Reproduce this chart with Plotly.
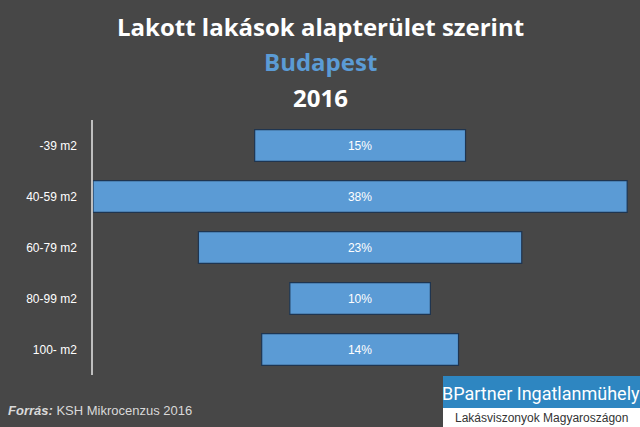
import plotly.graph_objects as go

categories = ["-39 m2", "40-59 m2", "60-79 m2", "80-99 m2", "100- m2"]
values = [15, 38, 23, 10, 14]
labels = ["15%", "38%", "23%", "10%", "14%"]

L, R, T, B = 93, 10, 120, 52
PW, PH = 640 - L - R, 427 - T - B

def px(x):
    return (x - L) / PW

def py(y):
    return (427 - B - y) / PH

fig = go.Figure(go.Bar(
    y=categories, x=values, base=[-v / 2 for v in values], orientation="h",
    text=labels, textposition="inside", insidetextanchor="middle",
    textfont=dict(color="white", size=12, family="Arial"),
    marker=dict(color="#5b9bd5", line=dict(color="#1f3550", width=1.2)),
    hoverinfo="skip",
))
fig.update_layout(
    width=640, height=427, margin=dict(l=L, r=R, t=T, b=B, autoexpand=False),
    paper_bgcolor="#474747", plot_bgcolor="rgba(0,0,0,0)",
    bargap=0.38, showlegend=False,
    xaxis=dict(range=[-19.0, 19.2], visible=False, automargin=False),
    yaxis=dict(autorange="reversed", showline=True, linecolor="#bfbfbf", linewidth=1.5,
               showgrid=False, ticks="", ticklabelstandoff=12, automargin=False,
               tickfont=dict(color="white", size=12, family="Arial")),
    font=dict(family="Arial"),
)
ann = [
    ("<b>Lakott lakások alapterület szerint</b>", 27, 24, "white"),
    ("<b>Budapest</b>", 62, 24, "#5b9bd5"),
    ("<b>2016</b>", 97, 24, "white"),
]
for t, ypx, s, c in ann:
    fig.add_annotation(text=t, x=px(320), y=py(ypx), xref="paper", yref="paper", xanchor="center",
                       showarrow=False, yanchor="middle", font=dict(size=s, color=c, family="Open Sans"))
fig.add_annotation(text="<b><i>Forrás:</i></b> KSH Mikrocenzus 2016", x=px(6), y=py(410),
                   xref="paper", yref="paper", xanchor="left", yanchor="middle", showarrow=False,
                   font=dict(size=13, color="#d9d9d9", family="Arial"))
fig.add_shape(type="rect", xref="paper", yref="paper", x0=px(443), x1=px(640), y0=py(408), y1=py(376),
              fillcolor="#2e86c1", line_width=0)
fig.add_shape(type="rect", xref="paper", yref="paper", x0=px(443), x1=px(640), y0=py(427), y1=py(408),
              fillcolor="white", line_width=0)
fig.add_annotation(text="BPartner Ingatlanmühely", x=px(541), y=py(393), xref="paper", yref="paper",
                   xanchor="center", showarrow=False, yanchor="middle",
                   font=dict(size=18, color="white", family="Roboto"))
fig.add_annotation(text="Lakásviszonyok Magyaroszágon", x=px(541), y=py(418), xref="paper", yref="paper",
                   xanchor="center", showarrow=False, yanchor="middle",
                   font=dict(size=12, color="#333333", family="Arial"))
fig.write_html("out.html", config={"displayModeBar": False})
with open("out.html", encoding="utf-8") as f:
    html = f.read()
html = html.replace("<body>", '<body style="margin:0;overflow:hidden">', 1)
with open("out.html", "w", encoding="utf-8") as f:
    f.write(html)
